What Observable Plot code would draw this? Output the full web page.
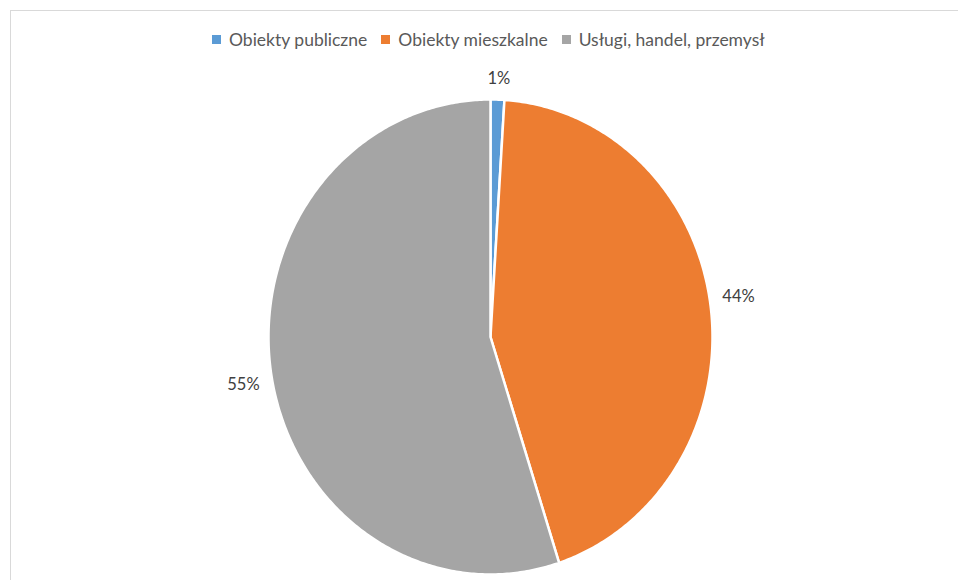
<!DOCTYPE html>
<html>
<head>
<meta charset="utf-8">
<script src="https://cdn.jsdelivr.net/npm/d3@7"></script>
<script src="https://cdn.jsdelivr.net/npm/@observablehq/plot@0.6"></script>
<style>
  html, body { margin: 0; padding: 0; background: #fff; }
  #wrap { position: relative; width: 958px; height: 580px; overflow: hidden; font-family: Lato, "Open Sans", sans-serif; }
  #frame { position: absolute; left: 10px; top: 10px; width: 960px; height: 600px;
           border-top: 1.5px solid #d9d9d9; border-left: 1.5px solid #d9d9d9; }
  #legend { position: absolute; left: 212px; top: 29px; display: flex; align-items: center;
            font-size: 17.5px; color: #595959; white-space: nowrap; }
  #legend .item { display: flex; align-items: center; margin-right: 14px; }
  #legend .sw { width: 9px; height: 9px; margin-right: 8px; }
  #chart { position: absolute; left: 0; top: 0; }
</style>
</head>
<body>
<div id="wrap">
  <div id="frame"></div>
  <div id="chart"></div>
  <div id="legend"></div>
</div>
<script>
// Share of each building category
const categories = ["Obiekty publiczne", "Obiekty mieszkalne", "Usługi, handel, przemysł"];
const shares = [1, 44, 55];
const colors = ["#5B9BD5", "#ED7D31", "#A5A5A5"];

// Pie geometry in data units: unit circle, stretched by the x/y scale ranges
const cx = 490, cy = 336.5, rx = 222, ry = 237.5;

const arcs = d3.pie().sort(null).startAngle(0).endAngle(2 * Math.PI)(shares);

// One closed polygon per slice: center, arc points, back to center
const slicePoints = [];
arcs.forEach((a, i) => {
  const cat = categories[i];
  slicePoints.push({cat, x: 0, y: 0});
  const steps = Math.max(4, Math.ceil((a.endAngle - a.startAngle) / 0.01));
  for (let s = 0; s <= steps; ++s) {
    const t = a.startAngle + (a.endAngle - a.startAngle) * s / steps;
    slicePoints.push({cat, x: Math.sin(t), y: Math.cos(t)});
  }
  slicePoints.push({cat, x: 0, y: 0});
});

// Percentage labels outside the pie edge, box corner facing the slice
const labels = arcs.map((a, i) => {
  const t = (a.startAngle + a.endAngle) / 2;
  const s = Math.sin(t), c = Math.cos(t);
  const text = `${shares[i]}%`;
  const w = text.length * 10.6, h = 18, gap = 12;
  // anchor point in pixel offsets from the center
  const ax = s * rx + s * gap;
  const ay = c * ry + c * gap;
  const sx = Math.max(-1, Math.min(1, s * 3));
  const sy = Math.max(-1, Math.min(1, c * 8));
  const px = ax + sx * w / 2;
  const py = ay + sy * h / 2;
  return {text, x: px / rx, y: py / ry};
});

const chart = Plot.plot({
  width: 958,
  height: 580,
  margin: 0,
  x: {domain: [-1, 1], range: [cx - rx, cx + rx], axis: null},
  y: {domain: [-1, 1], range: [cy + ry, cy - ry], axis: null},
  color: {domain: categories, range: colors},
  style: {background: "transparent", overflow: "visible"},
  marks: [
    Plot.line(slicePoints, {
      x: "x", y: "y", z: "cat", fill: "cat",
      stroke: "white", strokeWidth: 2.5, strokeLinejoin: "round", curve: "linear"
    }),
    Plot.text(labels, {
      x: "x", y: "y", text: "text",
      fill: "#404040", fontSize: 16.5, fontFamily: "Lato, 'Open Sans', sans-serif",
      textAnchor: "middle", lineAnchor: "middle"
    })
  ]
});
document.getElementById("chart").appendChild(chart);

// Legend row above the pie
const legend = d3.select("#legend");
categories.forEach((c, i) => {
  const item = legend.append("div").attr("class", "item");
  item.append("div").attr("class", "sw").style("background", colors[i]);
  item.append("span").text(c);
});
</script>
</body>
</html>
